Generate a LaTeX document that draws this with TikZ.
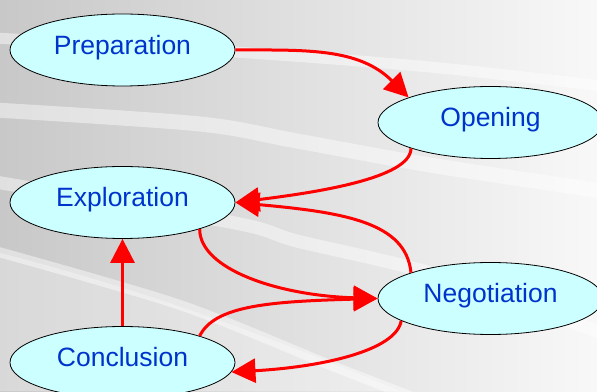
\documentclass[tikz,border=0pt]{standalone}
\usepackage{fontspec}
\setmainfont{Liberation Sans}
\usetikzlibrary{arrows.meta,shapes.geometric}
\definecolor{bgL}{HTML}{C8C8C8}
\definecolor{bgR}{HTML}{F8F8F8}
\definecolor{nodefill}{HTML}{CCFFFF}
\definecolor{txtblue}{HTML}{0033CC}
\definecolor{arrred}{HTML}{FF0000}
\begin{document}
\begin{tikzpicture}[x=1pt,y=1pt,
  stage/.style={ellipse, draw=black, line width=0.8pt, fill=nodefill,
    minimum width=225pt, minimum height=72pt, inner sep=0pt, text=txtblue,
    font=\fontsize{26.5}{30}\selectfont, text height=19pt, text depth=10pt},
  flow/.style={draw=arrred, line width=3pt, -{Triangle[length=24pt,width=24pt]}},
  band/.style={draw=white, draw opacity=0.45, line width=#1},
  band/.default=12pt]
\useasboundingbox (0,0) rectangle (597,391);
% background
\fill[left color=bgL, right color=bgR] (0,0) rectangle (597,391);
\fill[white, opacity=0.3] (0,138) .. controls (150,100) and (280,50) .. (400,0) -- (0,0) -- cycle;
\draw[band=11pt] plot[smooth] coordinates {(-5,353) (235,339) (430,324) (602,305)};
\draw[band=15pt] plot[smooth] coordinates {(-5,281) (200,267) (297,250) (430,226) (602,200)};
\draw[band=13pt] plot[smooth] coordinates {(-5,209) (235,168) (297,150) (430,118) (602,58)};
\draw[band=10pt] plot[smooth] coordinates {(-5,140) (180,86) (330,26) (410,-5)};
% stages
\node[stage] (prep) at (122.5,341) {Preparation};
\node[stage] (open) at (490.5,268.5) {Opening};
\node[stage] (expl) at (122.5,188.5) {Exploration};
\node[stage] (nego) at (490.5,92.5) {Negotiation};
\node[stage] (concl) at (122.5,28.5) {Conclusion};
% connectors
\draw[flow] (prep.east) to[out=0, in=135] (open.163);
\draw[flow] (open.198) .. controls +(0,-30) and +(80,10) .. (expl.east);
\draw[flow] (nego.162) .. controls +(-5,50) and +(110,-10) .. (expl.east);
\draw[flow] (expl.-19) .. controls +(0,-40) and +(-100,3) .. (nego.west);
\draw[flow] (concl.19) .. controls +(15,30) and +(-110,-3) .. (nego.west);
\draw[flow] (nego.194) .. controls +(-5,-30) and +(90,5) .. (concl.-5);
\draw[flow] (concl.north) -- (expl.south);
\end{tikzpicture}
\end{document}
